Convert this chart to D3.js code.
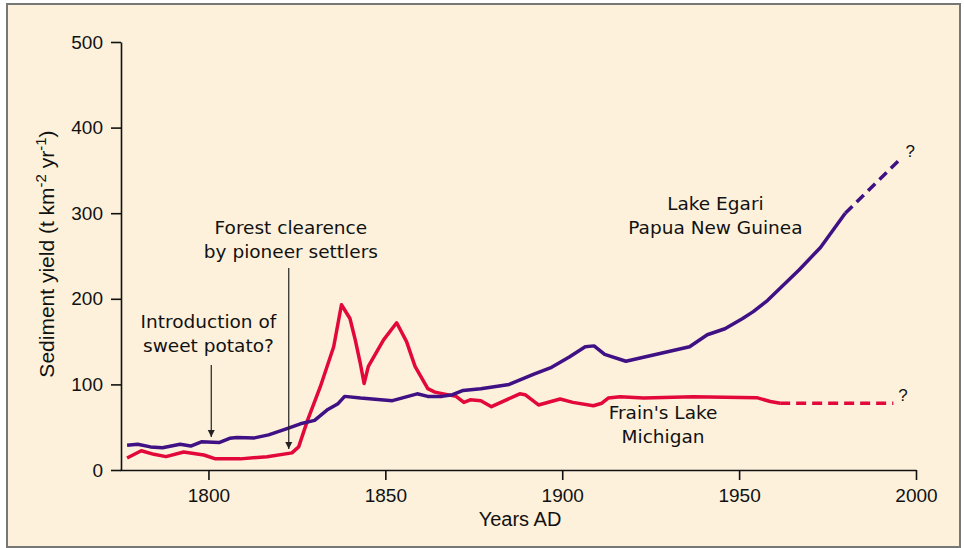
<!DOCTYPE html>
<html>
<head>
<meta charset="utf-8">
<script src="https://d3js.org/d3.v7.min.js"></script>
<style>
  body { margin: 0; background: #fff; }
  svg { font-family: 'Liberation Sans', Arial, sans-serif; }
  .axis path, .axis line { stroke: #111; stroke-width: 1.6px; }
  .axis text { font-size: 19px; fill: #111; }
  .note { font-family: 'DejaVu Sans', sans-serif; font-size: 18.5px; fill: #111; }
</style>
</head>
<body>
<svg width="964" height="548"></svg>
<script>
// Lake Egari, Papua New Guinea (solid part, then projected dashed part)
const egariYears = [1777, 1780, 1783.6, 1787, 1792, 1795, 1798, 1803, 1806, 1808, 1813, 1817, 1822, 1826, 1830,
  1833.5, 1836.5, 1838.5, 1843, 1852, 1859, 1862, 1866, 1869, 1872, 1877, 1885, 1892, 1897, 1902, 1906.5,
  1909, 1912, 1918, 1936, 1941, 1946, 1951, 1954, 1958, 1967, 1973, 1980];
const egariValues = [29, 30, 27, 26, 30, 28, 33, 32, 37, 38, 37.5, 41, 48, 54, 58,
  70, 77, 86, 84, 81, 89, 86, 86, 88, 93, 95, 100, 112, 120, 132, 144,
  145, 135, 127, 144, 158, 165, 177, 185, 198, 234, 260, 300];
const egariProjYears = [1980, 1996];
const egariProjValues = [300, 365];

// Frain's Lake, Michigan
const frainYears = [1777, 1781, 1784.6, 1788, 1793, 1798.7, 1802, 1809, 1816.6, 1823.6, 1825.5, 1828, 1831.6,
  1835.4, 1837.6, 1840, 1841.5, 1843, 1844, 1845.2, 1849.5, 1853.2, 1856, 1858.4, 1862, 1864, 1870,
  1872.2, 1874, 1877, 1880, 1888, 1889.5, 1893.3, 1899.4, 1903, 1908.8, 1911.2, 1913, 1916.4, 1923,
  1937, 1955, 1958.8, 1961.6];
const frainValues = [14, 22.5, 18.3, 15.6, 21, 17.5, 13, 13, 15.6, 20, 27, 58, 97,
  144, 193, 177, 152, 123, 101, 121, 152, 172, 150, 121, 95, 91, 86,
  79, 82, 81, 74, 89, 88, 76, 83, 79, 75, 78, 84, 85.6, 84,
  85.6, 84.5, 80, 78];
const frainProjYears = [1961.6, 1993.6];
const frainProjValues = [78, 78];

const xTicks = [1800, 1850, 1900, 1950, 2000];
const yTicks = [0, 100, 200, 300, 400, 500];

const purple = '#3f1184';
const red = '#e2083a';

const svg = d3.select('svg');

// frame
svg.append('rect')
  .attr('x', 7).attr('y', 4).attr('width', 953).attr('height', 543)
  .attr('fill', '#fdf1dc').attr('stroke', '#777').attr('stroke-width', 2);

const x = d3.scaleLinear().domain([1775, 2000]).range([120, 916]);
const y = d3.scaleLinear().domain([0, 500]).range([470, 42]);

// axes
svg.append('g').attr('class', 'axis')
  .attr('transform', 'translate(0,470)')
  .call(d3.axisBottom(x).tickValues(xTicks).tickFormat(d3.format('d')).tickSize(10).tickSizeOuter(0).tickPadding(9));
svg.append('g').attr('class', 'axis')
  .attr('transform', 'translate(121,0)')
  .call(d3.axisLeft(y).tickValues(yTicks).tickSize(10).tickSizeOuter(0).tickPadding(8));

svg.append('text')
  .attr('x', 520).attr('y', 526)
  .attr('text-anchor', 'middle')
  .style('font-size', '20px').attr('fill', '#111')
  .text('Years AD');

const ylab = svg.append('text')
  .attr('transform', 'translate(54,254) rotate(-90)')
  .attr('text-anchor', 'middle')
  .style('font-size', '21px').attr('fill', '#111');
ylab.append('tspan').text('Sediment yield (t km');
ylab.append('tspan').attr('dy', -8).style('font-size', '15px').text('-2');
ylab.append('tspan').attr('dy', 8).text(' yr');
ylab.append('tspan').attr('dy', -8).style('font-size', '15px').text('-1');
ylab.append('tspan').attr('dy', 8).text(')');

// lines
const line = d3.line().x(d => x(d[0])).y(d => y(d[1]));
function series(years, values) { return years.map((yr, i) => [yr, values[i]]); }

svg.append('path').datum(series(frainYears, frainValues))
  .attr('d', line).attr('fill', 'none').attr('stroke', red)
  .attr('stroke-width', 3.5).attr('stroke-linejoin', 'round');
svg.append('path').datum(series(frainProjYears, frainProjValues))
  .attr('d', line).attr('fill', 'none').attr('stroke', red)
  .attr('stroke-width', 3.5).attr('stroke-dasharray', '10 6');

svg.append('path').datum(series(egariYears, egariValues))
  .attr('d', line).attr('fill', 'none').attr('stroke', purple)
  .attr('stroke-width', 3.5).attr('stroke-linejoin', 'round');
svg.append('path').datum(series(egariProjYears, egariProjValues))
  .attr('d', line).attr('fill', 'none').attr('stroke', purple)
  .attr('stroke-width', 3.5).attr('stroke-dasharray', '10 6');

// arrow marker
svg.append('defs').append('marker')
  .attr('id', 'arrow').attr('viewBox', '0 0 10 10')
  .attr('refX', 10).attr('refY', 5)
  .attr('markerWidth', 7).attr('markerHeight', 9)
  .attr('markerUnits', 'userSpaceOnUse')
  .attr('orient', 'auto')
  .append('path').attr('d', 'M0,0 L10,5 L0,10 Z').attr('fill', '#222');

function note(lines, yr, yPix) {
  const t = svg.append('text').attr('class', 'note').attr('text-anchor', 'middle');
  lines.forEach((s, i) => {
    t.append('tspan').attr('x', x(yr)).attr('y', yPix + i * 23.5).text(s);
  });
}

note(['Introduction of', 'sweet potato?'], 1800, 328);
note(['Forest clearence', 'by pioneer settlers'], 1823.3, 234);
note(['Lake Egari', 'Papua New Guinea'], 1943.3, 210);
note(["Frain's Lake", 'Michigan'], 1928.5, 419);

svg.append('line')
  .attr('x1', x(1800.8)).attr('x2', x(1800.8))
  .attr('y1', 365).attr('y2', 437)
  .attr('stroke', '#222').attr('stroke-width', 1.2).attr('marker-end', 'url(#arrow)');
svg.append('line')
  .attr('x1', x(1822.7)).attr('x2', x(1822.7))
  .attr('y1', 268).attr('y2', 449)
  .attr('stroke', '#222').attr('stroke-width', 1.2).attr('marker-end', 'url(#arrow)');

// question marks at the projected ends
svg.append('text').attr('x', x(1997)).attr('y', y(365) - 1)
  .style('font-size', '17px').attr('fill', '#111').text('?');
svg.append('text').attr('x', x(1995)).attr('y', y(78) - 2)
  .style('font-size', '17px').attr('fill', '#111').text('?');
</script>
</body>
</html>
